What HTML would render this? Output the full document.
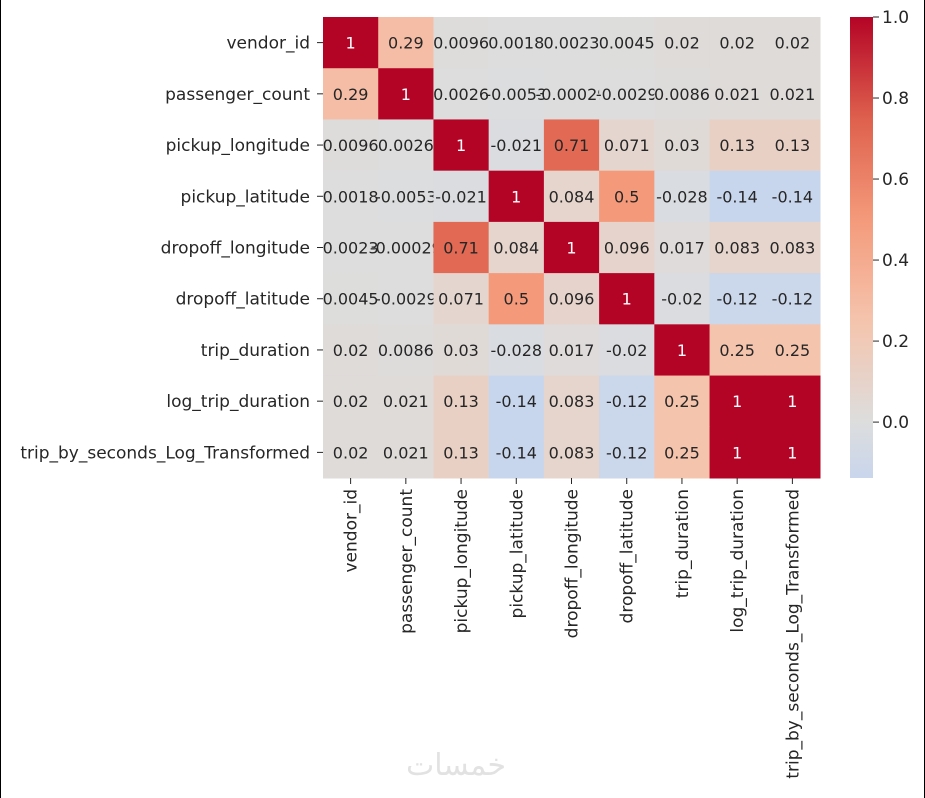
<!DOCTYPE html>
<html><head><meta charset="utf-8"><style>
html,body{margin:0;padding:0;background:#fff}
#wrap{position:relative;width:925px;height:798px;box-sizing:border-box;border-left:1px solid #000;border-right:1px solid #000;overflow:hidden}
svg text{font-family:"DejaVu Sans","Liberation Sans",sans-serif}
#wm{position:absolute;left:405px;top:748px;font-family:"DejaVu Sans","Noto Sans CJK SC",sans-serif;font-size:30px;color:#e2e2e2}
</style></head><body>
<div id="wrap">
<svg id="svg" width="925" height="798"></svg>
<div id="wm">خمسات</div>
</div>
<script>
const labels = ["vendor_id","passenger_count","pickup_longitude","pickup_latitude","dropoff_longitude","dropoff_latitude","trip_duration","log_trip_duration","trip_by_seconds_Log_Transformed"];
const row0 = [1,0.29,0.0096,0.0018,0.0023,0.0045,0.02,0.02,0.02];
const row1 = [0.29,1,0.0026,-0.0053,-0.00029,-0.0029,0.0086,0.021,0.021];
const row2 = [0.0096,0.0026,1,-0.021,0.71,0.071,0.03,0.13,0.13];
const row3 = [0.0018,-0.0053,-0.021,1,0.084,0.5,-0.028,-0.14,-0.14];
const row4 = [0.0023,-0.00029,0.71,0.084,1,0.096,0.017,0.083,0.083];
const row5 = [0.0045,-0.0029,0.071,0.5,0.096,1,-0.02,-0.12,-0.12];
const row6 = [0.02,0.0086,0.03,-0.028,0.017,-0.02,1,0.25,0.25];
const row7 = [0.02,0.021,0.13,-0.14,0.083,-0.12,0.25,1,1];
const row8 = [0.02,0.021,0.13,-0.14,0.083,-0.12,0.25,1,1];
const matrix = [row0,row1,row2,row3,row4,row5,row6,row7,row8];
const cbTicks = [0,0.2,0.4,0.6,0.8,1.0];
const cbMin = -0.138, cbMax = 1.0;

const NS="http://www.w3.org/2000/svg";
const svg=document.getElementById('svg');
function mk(t,a,p){const e=document.createElementNS(NS,t);for(const k in a)e.setAttribute(k,a[k]);(p||svg).appendChild(e);return e;}
const cw=[[0,59,76,192],[0.125,98,130,234],[0.25,141,176,254],[0.375,184,208,249],[0.5,221,221,221],[0.625,245,196,173],[0.75,244,154,123],[0.875,222,96,77],[1,180,4,38]];
function cmapRGB(v){let t=Math.max(0,Math.min(1,(v+1)/2));for(let i=1;i<cw.length;i++){if(t<=cw[i][0]){const a=cw[i-1],b=cw[i],f=(t-a[0])/(b[0]-a[0]);return [0,1,2].map(j=>Math.round(a[j+1]+(b[j+1]-a[j+1])*f));}}return [180,4,38];}
function rgb(c){return `rgb(${c[0]},${c[1]},${c[2]})`;}
const x0=322,x1=819,y0=17,y1=478,n=labels.length;
const cwid=(x1-x0)/n,chgt=(y1-y0)/n;
const xs=i=>x0+i*cwid, ys=i=>y0+i*chgt;
matrix.forEach((row,r)=>row.forEach((v,c)=>{
  const col=cmapRGB(v);
  const rect=mk('rect',{x:xs(c),y:ys(r),width:cwid+0.5,height:chgt+0.5,fill:rgb(col)});
  
  
  const lum=(0.2126*col[0]+0.7152*col[1]+0.0722*col[2])/255;
  const t=mk('text',{x:xs(c)+cwid/2,y:ys(r)+chgt/2+6,'text-anchor':'middle','font-size':16,fill:lum>0.408?'#262626':'#fff'});
  t.textContent=String(v);
  
  
}));
labels.forEach((l,i)=>{
  const yy=ys(i)+chgt/2;
  mk('line',{x1:x0-6,x2:x0,y1:yy,y2:yy,stroke:'#262626','stroke-width':1});
  const t=mk('text',{x:x0-13,y:yy+6,'text-anchor':'end','font-size':17,fill:'#262626'});
  t.textContent=l;
  
  
  const xx=xs(i)+cwid/2;
  mk('line',{x1:xx,x2:xx,y1:y1,y2:y1+6,stroke:'#262626','stroke-width':1});
  const tx=mk('text',{x:0,y:0,'text-anchor':'end','font-size':17,fill:'#262626',transform:`translate(${xx+6},${y1+11}) rotate(-90)`});
  tx.textContent=l;
  
  
});
const cbx=849,cbw=23;
const defs=mk('defs',{});
const g=mk('linearGradient',{id:'cbg',x1:0,y1:1,x2:0,y2:0},defs);
for(let k=0;k<=40;k++){const v=cbMin+(cbMax-cbMin)*k/40;mk('stop',{offset:k/40,'stop-color':rgb(cmapRGB(v))},g);}
const cb=mk('rect',{x:cbx,y:y0,width:cbw,height:y1-y0,fill:'url(#cbg)'});


const cy=v=>y1-(v-cbMin)/(cbMax-cbMin)*(y1-y0);
cbTicks.forEach(v=>{
  mk('line',{x1:cbx+cbw,x2:cbx+cbw+6,y1:cy(v),y2:cy(v),stroke:'#262626'});
  const t=mk('text',{x:cbx+cbw+9,y:cy(v)+6,'font-size':17,fill:'#262626'});
  t.textContent=v.toFixed(1);
  
  
});
</script>
</body></html>
